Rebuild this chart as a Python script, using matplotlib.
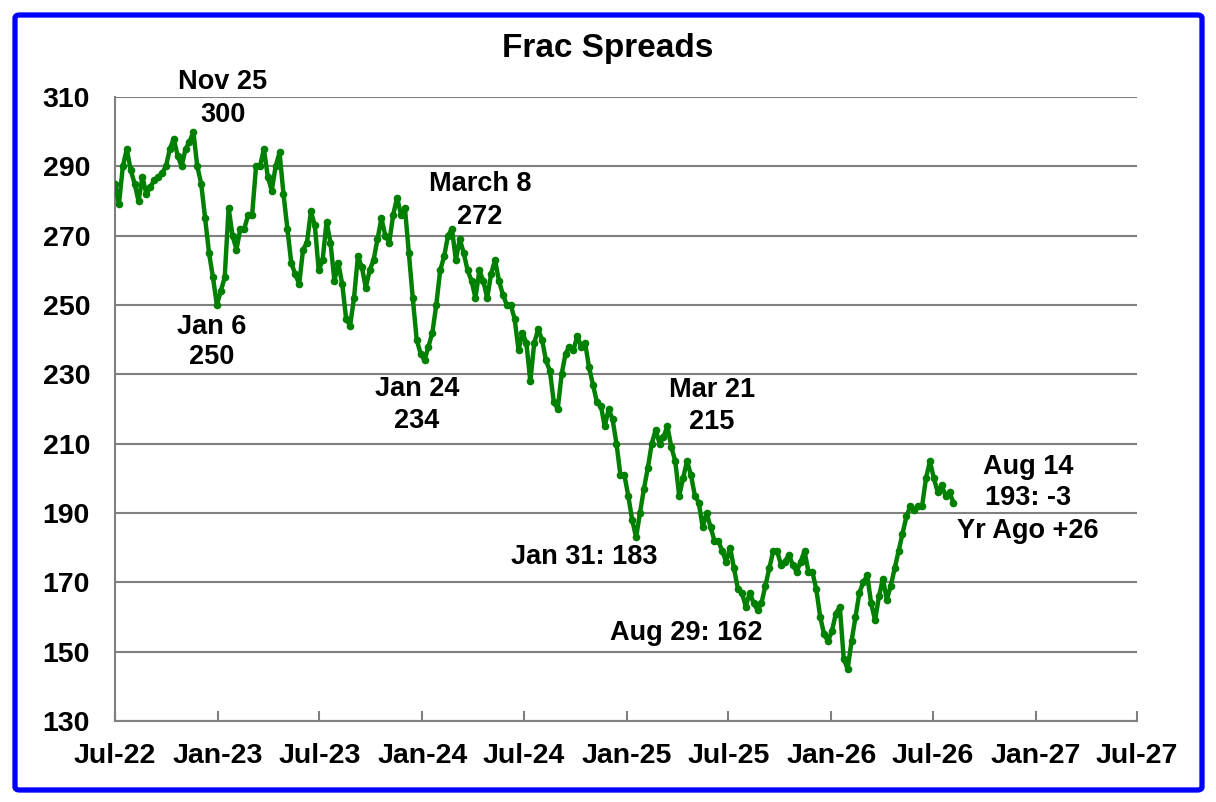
import matplotlib
matplotlib.use("Agg")
import matplotlib.pyplot as plt
from matplotlib.patches import FancyBboxPatch
import pandas as pd

# ---- data (weekly frac spread counts) ----
start_date = "2022-07-01"
frac_spreads = [
    285, 279, 290, 295, 289, 285, 280, 287, 282, 284,
    286, 287, 288, 290, 295, 298, 293, 290, 295, 297,
    300, 290, 285, 275, 265, 258, 250, 254, 258, 278,
    270, 266, 272, 272, 276, 276, 290, 290, 295, 287,
    283, 290, 294, 282, 272, 262, 259, 256, 266, 268,
    277, 273, 260, 263, 274, 268, 257, 262, 256, 246,
    244, 252, 264, 261, 255, 260, 263, 269, 275, 270,
    268, 276, 281, 276, 278, 265, 252, 240, 236, 234,
    238, 242, 250, 260, 264, 270, 272, 263, 269, 265,
    260, 257, 252, 260, 257, 252, 259, 263, 257, 253,
    250, 250, 246, 237, 242, 239, 228, 239, 243, 240,
    234, 231, 222, 220, 230, 236, 238, 237, 241, 238,
    239, 232, 227, 222, 221, 215, 220, 217, 210, 201,
    201, 195, 188, 183, 190, 197, 203, 210, 214, 210,
    212, 215, 209, 205, 195, 200, 205, 201, 195, 193,
    186, 190, 186, 182, 182, 179, 176, 180, 174, 168,
    167, 163, 167, 164, 162, 164, 169, 174, 179, 179,
    175, 176, 178, 175, 173, 176, 179, 173, 173, 168,
    160, 155, 153, 156, 161, 163, 148, 145, 153, 160,
    167, 170, 172, 164, 159, 166, 171, 165, 169, 174,
    179, 184, 189, 192, 191, 192, 192, 200, 205, 200,
    196, 198, 195, 196, 193,
]
dates = pd.date_range(start_date, periods=len(frac_spreads), freq="7D")

y_ticks = [130, 150, 170, 190, 210, 230, 250, 270, 290, 310]
x_tick_dates = pd.date_range("2022-07-01", "2027-07-01", freq="6MS")
x_tick_labels = [d.strftime("%b-%y") for d in x_tick_dates]

annotations = [
    ("Nov 25", 223, 82), ("300", 223, 115),
    ("Jan 6", 212, 327), ("250", 212, 357),
    ("March 8", 480, 184), ("272", 480, 217),
    ("Jan 24", 417, 389), ("234", 417, 421),
    ("Mar 21", 712, 390), ("215", 712, 422),
    ("Jan 31: 183", 584, 557),
    ("Aug 29: 162", 686, 633),
    ("Aug 14", 1028, 467), ("193: -3", 1028, 498),
    ("Yr Ago +26", 1028, 531),
]

# ---- figure ----
W, H = 1216, 802
plt.rcParams["font.family"] = ["Liberation Sans", "DejaVu Sans"]
plt.rcParams["font.weight"] = "bold"
fig = plt.figure(figsize=(W / 100, H / 100), dpi=100)
fig.patch.set_facecolor("white")

L, R, T, B = 115, 1137, 97, 721
ax = fig.add_axes([L / W, 1 - B / H, (R - L) / W, (B - T) / H])

ax.plot(dates, frac_spreads, color="#008000", linewidth=3.2,
        marker="o", markersize=5.5, markeredgewidth=0, zorder=3)

ax.set_ylim(130, 310)
ax.set_yticks(y_ticks)
ax.set_xlim(x_tick_dates[0], x_tick_dates[-1])
ax.set_xticks(x_tick_dates)
ax.set_xticklabels(x_tick_labels)

ax.grid(axis="y", color="#808080", linewidth=1.5)
ax.set_axisbelow(True)
for s in ["top", "right"]:
    ax.spines[s].set_visible(False)
for s in ["left", "bottom"]:
    ax.spines[s].set_color("#808080")
    ax.spines[s].set_linewidth(1.5)

ax.tick_params(axis="y", length=0, pad=18, labelsize=20.5)
ax.tick_params(axis="x", direction="in", length=7, width=1.5, color="#808080",
               pad=16, labelsize=20.5)
for lab in ax.get_xticklabels() + ax.get_yticklabels():
    lab.set_fontweight("bold")

fig.text(608 / W, 1 - 49 / H, "Frac Spreads", ha="center", va="center",
         fontsize=24, fontweight="bold")

for txt, px, py in annotations:
    fig.text(px / W, 1 - py / H, txt, ha="center", va="center",
             fontsize=19.5, fontweight="bold")

border = FancyBboxPatch((15 / W, 12 / H), 1187 / W, 775 / H,
                        boxstyle="round,pad=0,rounding_size=0.004",
                        transform=fig.transFigure, fill=False,
                        edgecolor="#0000FF", linewidth=3.8)
fig.patches.append(border)

fig.savefig("out.png", dpi=100)
